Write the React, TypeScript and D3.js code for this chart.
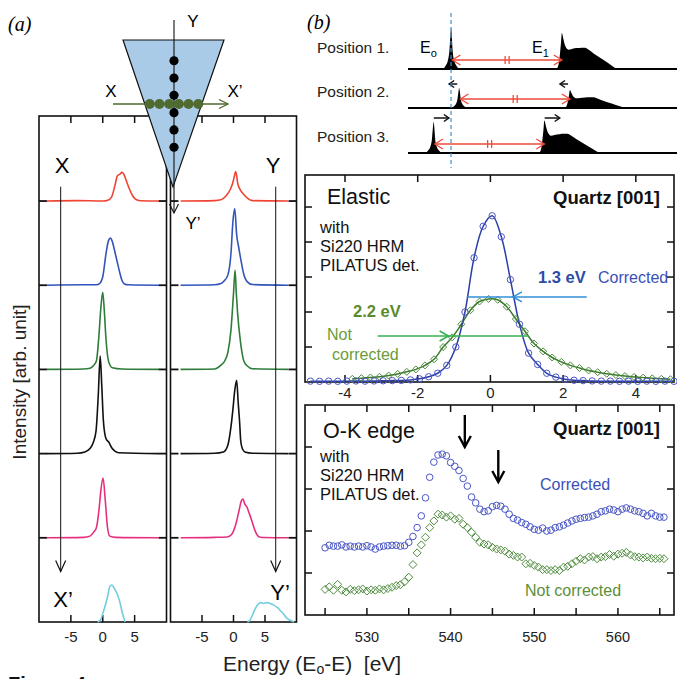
import React from "react";
import * as d3 from "d3";

const FONT = "'Liberation Sans', Arial, Helvetica, sans-serif";

// ===================== Panel (a): scan spectra [energy (eV), intensity (arb.)] =====================
const xScanRed = [[-8.8,0],[-4,0.005],[0,0],[0.8,0.01],[1.4,0.05],[1.9,0.18],[2.3,0.3],[2.7,0.32],[3.0,0.34],[3.3,0.32],[3.7,0.24],[4.2,0.14],[4.7,0.06],[5.3,0.015],[6,0.003],[8.8,0]];
const xScanBlue = [[-8.8,0],[-3,0.005],[-1,0.005],[-0.5,0.02],[0,0.1],[0.5,0.37],[0.9,0.53],[1.2,0.56],[1.5,0.52],[1.8,0.43],[2.2,0.3],[2.6,0.17],[3.0,0.06],[3.4,0.015],[4,0.005],[8.8,0]];
const xScanGreen = [[-8.8,0],[-3,0.005],[-2,0.015],[-1.4,0.05],[-1.0,0.1],[-0.6,0.4],[-0.3,0.73],[0,0.915],[0.25,0.69],[0.5,0.37],[0.9,0.1],[1.5,0.02],[3,0.005],[8.8,0]];
const xScanBlack = [[-8.8,0],[-4,0.005],[-2.8,0.02],[-2,0.06],[-1.5,0.13],[-1.05,0.27],[-0.7,0.7],[-0.4,1.16],[-0.15,0.8],[0.1,0.39],[0.5,0.18],[1.0,0.13],[1.4,0.07],[1.9,0.03],[2.5,0.01],[8.8,0]];
const xScanMagenta = [[-8.8,0],[-3,0.005],[-2,0.02],[-1.4,0.07],[-1.0,0.12],[-0.55,0.36],[-0.3,0.56],[0.05,0.71],[0.4,0.44],[0.75,0.12],[1.1,0.02],[2,0.005],[8.8,0]];
const xScanCyan = [[-0.8,0],[-0.3,0.03],[0,0.1],[0.4,0.2],[0.75,0.3],[1.1,0.42],[1.45,0.44],[1.8,0.4],[2.1,0.36],[2.6,0.26],[3.1,0.1],[3.5,0]];

const yScanRed = [[-8.4,0],[-3,0.005],[-2,0.015],[-1.2,0.06],[-0.5,0.14],[-0.1,0.22],[0.15,0.3],[0.35,0.35],[0.7,0.2],[1.1,0.13],[1.6,0.08],[2.2,0.035],[3.0,0.005],[8.7,0]];
const yScanBlue = [[-8.4,0],[-3,0.005],[-2,0.02],[-1.5,0.05],[-0.9,0.12],[-0.4,0.38],[-0.1,0.75],[0.2,0.91],[0.5,0.6],[0.8,0.46],[1.1,0.33],[1.6,0.14],[2.2,0.04],[3,0.008],[8.7,0]];
const yScanGreen = [[-8.4,0],[-3,0.005],[-2,0.05],[-1.4,0.1],[-0.9,0.2],[-0.4,0.47],[0.0,0.9],[0.25,1.18],[0.45,0.9],[0.65,0.67],[1.07,0.35],[1.6,0.11],[2.2,0.04],[3,0.008],[8.7,0]];
const yScanBlack = [[-8.4,0],[-3,0.005],[-1.6,0.02],[-0.9,0.1],[-0.4,0.32],[-0.1,0.52],[0.2,0.75],[0.5,0.87],[0.75,0.6],[0.95,0.4],[1.15,0.15],[1.4,0.06],[1.8,0.02],[3,0.005],[8.7,0]];
const yScanMagenta = [[-8.4,0],[-3,0.005],[-1,0.01],[-0.3,0.04],[0.4,0.17],[0.9,0.33],[1.25,0.44],[1.5,0.46],[1.8,0.4],[2.1,0.37],[2.5,0.29],[3.0,0.18],[3.5,0.07],[4.1,0.01],[5,0.003],[8.7,0]];
const yScanCyan = [[2.2,0],[2.6,0.02],[3.0,0.08],[3.4,0.15],[3.9,0.21],[4.3,0.23],[4.8,0.22],[5.3,0.23],[5.8,0.22],[6.4,0.2],[7.0,0.17],[7.5,0.13],[7.9,0.1],[8.4,0.05],[9.0,0.02],[9.6,0]];

const scanTicks = [-5, 0, 5];
const scanOffsets = [1, 2, 3, 4, 5];

// ===================== Panel (b) schematic =====================
const schemE0Profile = [[-3,0],[-2,0.08],[-1.2,0.2],[-0.6,0.45],[-0.2,0.85],[0,1],[0.25,0.85],[0.6,0.45],[1.2,0.2],[2,0.08],[3,0]];
const schemE1Profile = [[-1.9,0],[-1.1,0.15],[-0.37,0.61],[0,0.88],[0.56,0.73],[1.1,0.59],[2.45,0.47],[3.7,0.49],[5.6,0.51],[7.4,0.52],[8.6,0.52],[10,0.47],[11.8,0.38],[15.5,0.22],[18.6,0.08],[20.4,0]];
const schemE0Pos = [16.0, 19.0, 9.5];
const schemE1Pos = [57.2, 60.2, 50.7];
const schemE0Amp = [1, 0.49, 0.76];
const schemE1Amp = [1, 0.5, 0.9];
const schemMotion = [0, -1, 1];
const schemLabels = ["Position 1.", "Position 2.", "Position 3."];

// ===================== Elastic =====================
const corrE = [-4.95,-4.7,-4.45,-4.2,-3.95,-3.7,-3.45,-3.2,-2.95,-2.7,-2.45,-2.2,-1.95,-1.7,-1.45,-1.2,-0.95,-0.7,-0.45,-0.2,0.05,0.3,0.55,0.8,1.05,1.3,1.55,1.8,2.05,2.3,2.55,2.8,3.05,3.3,3.55,3.8,4.05,4.3,4.55,4.8,5.05];
const corrI = [0.005,0.004,0.005,0.004,0.005,0.006,0.005,0.006,0.007,0.008,0.009,0.012,0.018,0.03,0.05,0.095,0.2,0.4,0.71,0.89,0.95,0.83,0.585,0.33,0.165,0.1,0.05,0.028,0.016,0.01,0.008,0.006,0.005,0.005,0.004,0.005,0.004,0.005,0.004,0.005,0.004];
const notCorrE = [-3.8,-3.55,-3.3,-3.05,-2.8,-2.55,-2.3,-2.05,-1.8,-1.55,-1.3,-1.05,-0.8,-0.55,-0.3,-0.05,0.2,0.45,0.7,0.95,1.2,1.45,1.7,1.95,2.2,2.45,2.7,2.95,3.2,3.45,3.7,3.95,4.2,4.45,4.7,4.95];
const notCorrI = [0.018,0.022,0.026,0.03,0.037,0.046,0.058,0.072,0.095,0.13,0.2,0.255,0.33,0.41,0.46,0.475,0.47,0.43,0.36,0.29,0.22,0.175,0.14,0.115,0.095,0.08,0.066,0.056,0.047,0.04,0.034,0.029,0.025,0.021,0.018,0.016];
const elasticXTicks = [-4, -2, 0, 2, 4];
const elasticYTicks = [0.2, 0.4, 0.6, 0.8, 1.0];
const fwhmCorr = { y: 0.486, x0: -0.65, x1: 2.65, head: 0.62 };
const fwhmNot = { y: 0.263, x0: -3.1, x1: 1.05, head: -1.15 };

// ===================== O-K edge =====================
const okEnergy = [525,525.5,526,526.5,527,527.5,528,528.5,529,529.5,530,530.5,531,531.5,532,532.5,533,533.5,534,534.5,535,535.5,536,536.5,537,537.5,538,538.5,539,539.5,540,540.5,541,541.5,542,542.5,543,543.5,544,544.5,545,545.5,546,546.5,547,547.5,548,548.5,549,549.5,550,550.5,551,551.5,552,552.5,553,553.5,554,554.5,555,555.5,556,556.5,557,557.5,558,558.5,559,559.5,560,560.5,561,561.5,562,562.5,563,563.5,564,564.5,565,565.5];
const okCorrected = [1.60,1.66,1.64,1.64,1.67,1.62,1.64,1.62,1.64,1.62,1.65,1.62,1.57,1.62,1.64,1.65,1.66,1.66,1.64,1.65,1.73,1.87,2.08,2.36,2.79,3.28,3.64,3.81,3.83,3.79,3.63,3.54,3.44,3.25,3.07,2.81,2.67,2.52,2.46,2.48,2.58,2.61,2.59,2.52,2.40,2.30,2.26,2.20,2.16,2.10,2.04,2.02,2.07,2.00,2.02,2.08,2.10,2.14,2.19,2.24,2.28,2.30,2.32,2.33,2.36,2.40,2.46,2.48,2.52,2.50,2.46,2.52,2.55,2.52,2.48,2.46,2.42,2.36,2.42,2.36,2.33,2.33];
const okNotCorrected = [0.61,0.67,0.59,0.73,0.59,0.55,0.61,0.58,0.60,0.62,0.57,0.60,0.59,0.62,0.60,0.63,0.66,0.70,0.72,0.79,0.90,1.20,1.48,1.67,1.85,2.08,2.24,2.40,2.38,2.33,2.36,2.28,2.30,2.16,2.08,1.97,1.85,1.73,1.69,1.67,1.61,1.57,1.55,1.52,1.45,1.42,1.38,1.38,1.22,1.23,1.18,1.14,1.08,1.08,1.06,1.08,1.06,1.14,1.16,1.22,1.28,1.34,1.31,1.38,1.39,1.34,1.38,1.39,1.44,1.40,1.45,1.47,1.49,1.43,1.39,1.38,1.36,1.38,1.35,1.34,1.35,1.34];
const okXTicks = [525, 530, 535, 540, 545, 550, 555, 560, 565];
const okXLabels = [530, 540, 550, 560];
const okYTicks = [1, 2, 3, 4];
const okFeatureArrows = [541.7, 545.7];

// ===================== helpers =====================
function vHead(tx: number, ty: number, dx: number, dy: number, len = 7, half = 4) {
  const n = Math.hypot(dx, dy);
  const ux = dx / n, uy = dy / n;
  const bx = tx - ux * len, by = ty - uy * len;
  const px = -uy * half, py = ux * half;
  return `M${bx + px},${by + py}L${tx},${ty}L${bx - px},${by - py}`;
}

function diamond(cx: number, cy: number, r: number) {
  return `M${cx},${cy - r}L${cx + r},${cy}L${cx},${cy + r}L${cx - r},${cy}Z`;
}

const BLUE_PT = "#4a57c6";
const BLUE_LN = "#2c3fa6";
const GREEN_PT = "#4d8b3b";
const GREEN_LN = "#3c7a2e";

export default function App() {
  const W = 677, H = 679;

  // ---------- panel (a) ----------
  const xA = d3.scaleLinear().domain([-10, 10]).range([39, 166.5]);
  const xB = d3.scaleLinear().domain([-10, 10]).range([170.5, 296.5]);
  const yAB = d3.scaleLinear().domain([0, 6.01]).range([622, 116]);
  const scansX = [xScanCyan, xScanMagenta, xScanBlack, xScanGreen, xScanBlue, xScanRed];
  const scansY = [yScanCyan, yScanMagenta, yScanBlack, yScanGreen, yScanBlue, yScanRed];
  const scanColors = ["#72cde0", "#e6307f", "#111111", "#2f7d3a", "#3355bb", "#ee4433"];
  const mkLine = (xs: any, k: number) =>
    d3.line<number[]>().x((d) => xs(d[0])).y((d) => yAB(k + d[1])).curve(d3.curveMonotoneX);

  const boxes = [xA, xB];

  // ---------- panel (b) schematic ----------
  const sx = d3.scaleLinear().domain([0, 100]).range([408, 677]);
  const rowBase = [69, 108, 153];
  const peakH = 41;

  // ---------- elastic ----------
  const xE = d3.scaleLinear().domain([-5.1, 5.05]).range([305, 674]);
  const yE = d3.scaleLinear().domain([0, 1.183]).range([382, 175]);
  const corrPts = corrE.map((e, i) => [e, corrI[i]]);
  const notPts = notCorrE.map((e, i) => [e, notCorrI[i]]);
  const eLine = d3.line<number[]>().x((d) => xE(d[0])).y((d) => yE(d[1])).curve(d3.curveCatmullRom);

  // ---------- O-K ----------
  const xO = d3.scaleLinear().domain([522.6, 566.7]).range([305, 674]);
  const yO = d3.scaleLinear().domain([0, 5]).range([615, 405]);

  return (
    <svg
      width={W}
      height={H}
      style={{ position: "absolute", left: 0, top: 0, background: "#fff" }}
      fontFamily={FONT}
    >
      <rect width={W} height={H} fill="#fff" />

      {/* ============ (a) ============ */}
      <text x={8} y={31} fontFamily="'Liberation Serif', 'Times New Roman', serif" fontStyle="italic" fontSize={20}>
        (a)
      </text>

      {boxes.map((xs, bi) => (
        <g key={"box" + bi}>
          <rect
            x={xs(-10)}
            y={yAB(6.01)}
            width={xs(10) - xs(-10)}
            height={yAB(0) - yAB(6.01)}
            fill="none"
            stroke="#111"
            strokeWidth={1.6}
          />
          {scanTicks.map((t) => (
            <g key={t}>
              <line x1={xs(t)} x2={xs(t)} y1={yAB(0)} y2={yAB(0) - 7} stroke="#111" strokeWidth={1.5} />
              <line x1={xs(t)} x2={xs(t)} y1={yAB(6.01)} y2={yAB(6.01) + 7} stroke="#111" strokeWidth={1.5} />
              <text x={xs(t)} y={642} textAnchor="middle" fontSize={15} fill="#222">
                {t}
              </text>
            </g>
          ))}
          {scanOffsets.map((k) => (
            <g key={k}>
              <line x1={xs(-10)} x2={xs(-10) + 8} y1={yAB(k)} y2={yAB(k)} stroke="#111" strokeWidth={1.8} />
              <line x1={xs(10)} x2={xs(10) - 8} y1={yAB(k)} y2={yAB(k)} stroke="#111" strokeWidth={1.8} />
            </g>
          ))}
        </g>
      ))}

      {scansX.map((s, k) => (
        <path key={"sx" + k} d={mkLine(xA, k)(s as any) || ""} fill="none" stroke={scanColors[k]} strokeWidth={1.6} />
      ))}
      {scansY.map((s, k) => (
        <path key={"sy" + k} d={mkLine(xB, k)(s as any) || ""} fill="none" stroke={scanColors[k]} strokeWidth={1.6} />
      ))}

      {/* scan direction arrows */}
      <line x1={xA(-6.6)} x2={xA(-6.6)} y1={yAB(5.17)} y2={yAB(0.6)} stroke="#111" strokeWidth={1} />
      <path d={vHead(xA(-6.6), yAB(0.6), 0, 1, 11, 5)} fill="none" stroke="#111" strokeWidth={1.2} />
      <line x1={xB(6.7)} x2={xB(6.7)} y1={yAB(5.17)} y2={yAB(0.6)} stroke="#111" strokeWidth={1} />
      <path d={vHead(xB(6.7), yAB(0.6), 0, 1, 11, 5)} fill="none" stroke="#111" strokeWidth={1.2} />
      <text x={62} y={173} textAnchor="middle" fontSize={22}>X</text>
      <text x={273} y={173} textAnchor="middle" fontSize={22}>Y</text>
      <text x={63} y={607} textAnchor="middle" fontSize={22}>X’</text>
      <text x={280} y={600} textAnchor="middle" fontSize={22}>Y’</text>

      {/* sample triangle */}
      <path d="M123,40L224,40L173,187Z" fill="#a9cbe7" stroke="#111" strokeWidth={1.2} />
      <line x1={174} x2={174} y1={20} y2={213} stroke="#111" strokeWidth={1.1} />
      <path d={vHead(174, 213, 0, 1, 9, 4.5)} fill="none" stroke="#111" strokeWidth={1.1} />
      {[-2.5, -1.5, -0.5, 0.5, 1.5, 2.5].map((o) => (
        <circle key={"bd" + o} cx={174} cy={104 + o * 17.3} r={4.6} fill="#000" />
      ))}
      <line x1={113} x2={228} y1={104} y2={104} stroke="#4e6a2a" strokeWidth={1.3} />
      <path d={vHead(228, 104, 1, 0, 9, 4.5)} fill="none" stroke="#4e6a2a" strokeWidth={1.3} />
      {[-2.5, -1.5, -0.5, 0.5, 1.5, 2.5].map((o) => (
        <circle key={"gd" + o} cx={174 + o * 9.7} cy={104} r={5} fill="#4f6b30" />
      ))}
      <text x={193} y={27} textAnchor="middle" fontSize={17}>Y</text>
      <text x={111} y={97} textAnchor="middle" fontSize={17}>X</text>
      <text x={235} y={97} textAnchor="middle" fontSize={17}>X’</text>
      <text x={193} y={229} textAnchor="middle" fontSize={17}>Y’</text>

      <text transform="translate(26,382) rotate(-90)" textAnchor="middle" fontSize={19} fill="#222">
        Intensity [arb. unit]
      </text>

      {/* ============ (b) ============ */}
      <text x={307} y={29} fontFamily="'Liberation Serif', 'Times New Roman', serif" fontStyle="italic" fontSize={20}>
        (b)
      </text>
      {schemLabels.map((lab, r) => {
        const base = rowBase[r];
        const area0 = d3
          .area<number[]>()
          .x((d) => sx(schemE0Pos[r] + d[0]))
          .y0(base)
          .y1((d) => base - d[1] * peakH * schemE0Amp[r])
          .curve(d3.curveMonotoneX);
        const area1 = d3
          .area<number[]>()
          .x((d) => sx(schemE1Pos[r] + d[0]))
          .y0(base)
          .y1((d) => base - d[1] * peakH * schemE1Amp[r])
          .curve(d3.curveMonotoneX);
        const ay = base - 9;
        const ax0 = sx(schemE0Pos[r] + 0.5);
        const ax1 = sx(schemE1Pos[r]);
        const mid = (ax0 + ax1) / 2;
        const dir = schemMotion[r];
        const my = dir < 0 ? base - 24 : base - 35;
        const motion = (p: number) => {
          if (dir === 0) return null;
          const s = dir < 0 ? sx(p - 0.7) : sx(p + 0.1);
          const e = dir < 0 ? sx(p - 3.7) : sx(p + 5.7);
          return (
            <g>
              <line x1={s} x2={e} y1={my} y2={my} stroke="#111" strokeWidth={1.5} />
              <path d={vHead(e, my, dir, 0, 5, 3.5)} fill="none" stroke="#111" strokeWidth={1.5} />
            </g>
          );
        };
        return (
          <g key={lab}>
            <text x={317} y={[53, 97, 142][r]} fontSize={15.5} fill="#222">
              {lab}
            </text>
            <path d={area0(schemE0Profile as any) || ""} fill="#000" />
            <path d={area1(schemE1Profile as any) || ""} fill="#000" />
            <line x1={408} x2={677} y1={base} y2={base} stroke="#000" strokeWidth={2} />
            <line x1={ax0} x2={ax1} y1={ay} y2={ay} stroke="#ee4a3a" strokeWidth={1.3} />
            <path d={vHead(ax0, ay, -1, 0, 8, 5)} fill="none" stroke="#ee4a3a" strokeWidth={1.3} />
            <path d={vHead(ax1, ay, 1, 0, 8, 5)} fill="none" stroke="#ee4a3a" strokeWidth={1.3} />
            <line x1={mid - 2} x2={mid - 2} y1={ay - 4} y2={ay + 4} stroke="#ee4a3a" strokeWidth={1.3} />
            <line x1={mid + 2} x2={mid + 2} y1={ay - 4} y2={ay + 4} stroke="#ee4a3a" strokeWidth={1.3} />
            {motion(schemE0Pos[r])}
            {motion(schemE1Pos[r])}
          </g>
        );
      })}
      <line x1={sx(16)} x2={sx(16)} y1={13} y2={168} stroke="#3f8fd2" strokeWidth={1.2} strokeDasharray="4,3" />
      <text x={420} y={53} fontSize={16}>
        E<tspan fontSize={11} dy={4}>o</tspan>
      </text>
      <text x={532} y={53} fontSize={16}>
        E<tspan fontSize={11} dy={4}>1</tspan>
      </text>

      {/* ============ Elastic panel ============ */}
      <rect x={305} y={175} width={369} height={207} fill="#fff" stroke="#111" strokeWidth={1.6} />
      {elasticXTicks.map((t) => (
        <g key={"ext" + t}>
          <line x1={xE(t)} x2={xE(t)} y1={382} y2={375} stroke="#111" strokeWidth={1.5} />
          <line x1={xE(t)} x2={xE(t)} y1={175} y2={182} stroke="#111" strokeWidth={1.5} />
          <text x={xE(t)} y={398} textAnchor="middle" fontSize={15} fill="#222">
            {t}
          </text>
        </g>
      ))}
      {elasticYTicks.map((t) => (
        <g key={"eyt" + t}>
          <line x1={305} x2={312} y1={yE(t)} y2={yE(t)} stroke="#111" strokeWidth={1.5} />
          <line x1={674} x2={667} y1={yE(t)} y2={yE(t)} stroke="#111" strokeWidth={1.5} />
        </g>
      ))}
      <path d={eLine(notPts) || ""} fill="none" stroke={GREEN_LN} strokeWidth={1.5} />
      <path d={eLine(corrPts) || ""} fill="none" stroke={BLUE_LN} strokeWidth={1.5} />
      {notPts.map((d, i) => (
        <path key={"nd" + i} d={diamond(xE(d[0]), yE(d[1]), 3.5)} fill="none" stroke={GREEN_PT} strokeWidth={1} />
      ))}
      {corrPts.map((d, i) => (
        <circle key={"cc" + i} cx={xE(d[0])} cy={yE(d[1])} r={3.2} fill="none" stroke={BLUE_PT} strokeWidth={1} />
      ))}
      {/* FWHM markers */}
      <line x1={xE(fwhmCorr.x0)} x2={xE(fwhmCorr.x1)} y1={yE(fwhmCorr.y)} y2={yE(fwhmCorr.y)} stroke="#2f8fd9" strokeWidth={1.5} />
      <path d={vHead(xE(fwhmCorr.head), yE(fwhmCorr.y), -1, 0, 9, 5)} fill="none" stroke="#2f8fd9" strokeWidth={1.5} />
      <line x1={xE(fwhmNot.x0)} x2={xE(fwhmNot.x1)} y1={yE(fwhmNot.y)} y2={yE(fwhmNot.y)} stroke="#35b14c" strokeWidth={1.5} />
      <path d={vHead(xE(fwhmNot.head), yE(fwhmNot.y), 1, 0, 9, 5)} fill="none" stroke="#35b14c" strokeWidth={1.5} />

      <text x={327} y={204} fontSize={21.5} fill="#111">Elastic</text>
      <text x={660} y={204} textAnchor="end" fontSize={18.5} fontWeight="bold" fill="#111">Quartz [001]</text>
      <text x={320} y={233} fontSize={16.5} fill="#111">with</text>
      <text x={320} y={252} fontSize={16.5} fill="#111">Si220 HRM</text>
      <text x={320} y={271} fontSize={16.5} fill="#111">PILATUS det.</text>
      <text x={538} y={283} fontSize={16.5} fontWeight="bold" fill="#2d4ca6">1.3 eV</text>
      <text x={598} y={283} fontSize={16} fill="#3b4fb8">Corrected</text>
      <text x={353} y={317} fontSize={16.5} fontWeight="bold" fill="#5b8a2c">2.2 eV</text>
      <text x={327} y={340} fontSize={16} fill="#6b9b3b">Not</text>
      <text x={332} y={360} fontSize={16} fill="#6b9b3b">corrected</text>

      {/* ============ O-K edge panel ============ */}
      <rect x={305} y={405} width={369} height={210} fill="#fff" stroke="#111" strokeWidth={1.6} />
      {okXTicks.map((t) => (
        <g key={"oxt" + t}>
          <line x1={xO(t)} x2={xO(t)} y1={615} y2={608} stroke="#111" strokeWidth={1.5} />
          <line x1={xO(t)} x2={xO(t)} y1={405} y2={412} stroke="#111" strokeWidth={1.5} />
        </g>
      ))}
      {okXLabels.map((t) => (
        <text key={"oxl" + t} x={xO(t)} y={642} textAnchor="middle" fontSize={14.5} fill="#222">
          {t}
        </text>
      ))}
      {okYTicks.map((t) => (
        <g key={"oyt" + t}>
          <line x1={305} x2={312} y1={yO(t)} y2={yO(t)} stroke="#111" strokeWidth={1.5} />
          <line x1={674} x2={667} y1={yO(t)} y2={yO(t)} stroke="#111" strokeWidth={1.5} />
        </g>
      ))}
      {okEnergy.map((e, i) => (
        <path key={"od" + i} d={diamond(xO(e), yO(okNotCorrected[i]), 4)} fill="none" stroke={GREEN_PT} strokeWidth={1} />
      ))}
      {okEnergy.map((e, i) => (
        <circle key={"oc" + i} cx={xO(e)} cy={yO(okCorrected[i])} r={3.3} fill="none" stroke={BLUE_PT} strokeWidth={1} />
      ))}
      {okFeatureArrows.map((e, i) => {
        const y1 = [415, 450][i];
        const y2 = y1 + 32;
        return (
          <g key={"fa" + i}>
            <line x1={xO(e)} x2={xO(e)} y1={y1} y2={y2} stroke="#000" strokeWidth={2.4} />
            <path d={vHead(xO(e), y2, 0, 1, 11, 6)} fill="none" stroke="#000" strokeWidth={2.4} />
          </g>
        );
      })}
      <text x={323} y={438} fontSize={21.5} fill="#111">O-K edge</text>
      <text x={660} y={435} textAnchor="end" fontSize={18.5} fontWeight="bold" fill="#111">Quartz [001]</text>
      <text x={320} y={462} fontSize={16.5} fill="#111">with</text>
      <text x={320} y={481} fontSize={16.5} fill="#111">Si220 HRM</text>
      <text x={320} y={500} fontSize={16.5} fill="#111">PILATUS det.</text>
      <text x={540} y={490} fontSize={16} fill="#3b4fb8">Corrected</text>
      <text x={525} y={596} fontSize={16} fill="#5b8f3a">Not corrected</text>

      {/* ============ shared axis title & caption ============ */}
      <text x={223} y={671} fontSize={21} fill="#222" style={{ whiteSpace: "pre" }}>
        {"Energy (E"}
        <tspan fontSize={14} dy={3}>o</tspan>
        <tspan dy={-3}>{"-E)  [eV]"}</tspan>
      </text>
      <text x={8} y={691} fontSize={20} fontWeight="bold" fill="#111">
        Figure 4
      </text>
    </svg>
  );
}
